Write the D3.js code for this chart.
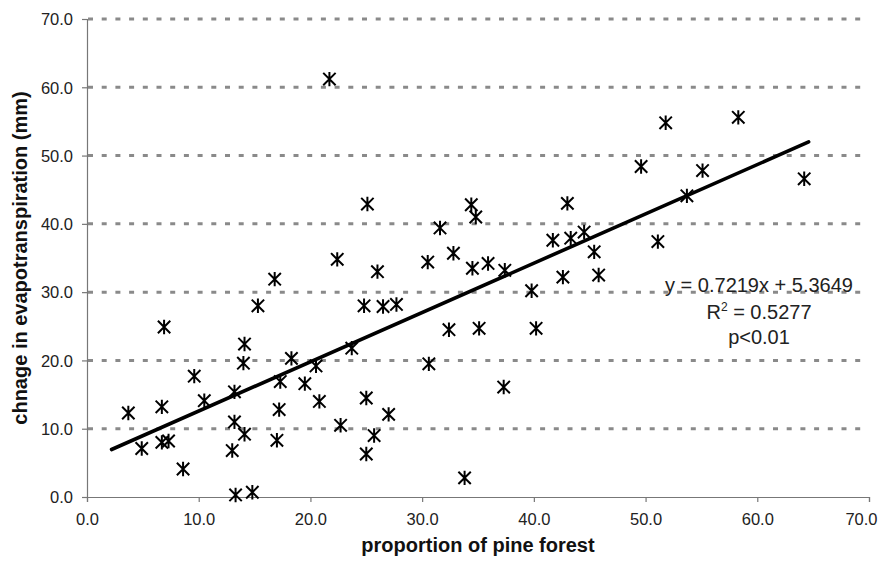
<!DOCTYPE html>
<html lang="en">
<head>
  <meta charset="UTF-8" />
  <title>Pine forest vs evapotranspiration</title>
  <script src="https://d3js.org/d3.v7.min.js"></script>
  <style>
    body {
      margin: 0;
      background: #fff;
      font-family: 'Liberation Sans', Arial, sans-serif;
    }
    svg { display: block; }
  </style>
</head>
<body>
  <div id="chart"></div>

  <script>
    // proportion of pine forest (%)
    const pine = [
      21.7, 25.1, 22.4, 26.0, 16.8, 15.3, 24.8, 26.5, 27.7, 6.9,
      14.1, 23.7, 14.0, 18.3, 20.5, 9.6, 17.3, 19.5, 13.2, 10.5,
      20.8, 25.0, 3.7, 6.7, 17.2, 13.2, 22.7, 14.1, 25.7, 6.7,
      7.3, 4.9, 17.0, 13.0, 25.0, 8.6, 13.3, 14.8, 30.5, 32.8,
      34.5, 35.9, 37.4, 42.6, 45.8, 45.4, 39.8, 32.4, 35.1, 40.2,
      30.6, 37.3, 27.0, 33.8, 49.6, 34.4, 34.8, 43.0, 31.6, 41.7,
      43.3, 44.5, 51.1, 51.8, 58.3, 55.1, 64.2, 53.7
    ];
    // change in evapotranspiration (mm)
    const etChange = [
      61.2, 42.9, 34.8, 33.0, 31.9, 28.0, 28.0, 27.9, 28.2, 24.9,
      22.4, 21.8, 19.6, 20.3, 19.2, 17.7, 16.9, 16.6, 15.4, 14.1,
      14.0, 14.5, 12.3, 13.2, 12.8, 11.0, 10.5, 9.2, 9.0, 8.0,
      8.2, 7.1, 8.3, 6.8, 6.3, 4.1, 0.3, 0.7, 34.4, 35.7,
      33.5, 34.2, 33.2, 32.2, 32.5, 35.9, 30.2, 24.5, 24.7, 24.7,
      19.5, 16.1, 12.1, 2.8, 48.4, 42.8, 41.0, 43.0, 39.4, 37.6,
      37.9, 38.8, 37.4, 54.8, 55.6, 47.8, 46.6, 44.1
    ];
    const xTicks = [0, 10, 20, 30, 40, 50, 60, 70];
    const yTicks = [0, 10, 20, 30, 40, 50, 60, 70];
    // linear trendline y = slope*x + intercept, drawn over this x range
    const slope = 0.7219, intercept = 5.3649;
    const trendX = [2.2, 64.6];
    const statLines = ["y = 0.7219x + 5.3649", "R2 = 0.5277", "p<0.01"];

    const width = 884, height = 566;
    const margin = { top: 19, right: 15, bottom: 69, left: 87 };

    const svg = d3.select("#chart").append("svg")
      .attr("width", width)
      .attr("height", height);

    const x = d3.scaleLinear().domain([0, 70]).range([margin.left, width - margin.right]);
    const y = d3.scaleLinear().domain([0, 70]).range([height - margin.bottom, margin.top]);

    // dashed gridlines
    svg.append("g")
      .selectAll("line")
      .data(yTicks.filter(d => d > 0))
      .join("line")
      .attr("x1", x(0) + 1)
      .attr("x2", x(70) - 8)
      .attr("y1", d => y(d))
      .attr("y2", d => y(d))
      .attr("stroke", "#8a8a8a")
      .attr("stroke-width", 3)
      .attr("stroke-dasharray", "5,8.7");

    // axes
    const xAxis = svg.append("g")
      .attr("transform", `translate(0,${y(0)})`)
      .call(d3.axisBottom(x).tickValues(xTicks).tickFormat(d3.format(".1f")).tickSize(5).tickPadding(11));
    const yAxis = svg.append("g")
      .attr("transform", `translate(${x(0)},0)`)
      .call(d3.axisLeft(y).tickValues(yTicks).tickFormat(d3.format(".1f")).tickSize(5).tickPadding(9));

    [xAxis, yAxis].forEach(g => {
      g.select(".domain").attr("stroke", "#777").attr("stroke-width", 1.2);
      g.selectAll(".tick line").attr("stroke", "#777").attr("stroke-width", 1.2);
      g.selectAll(".tick text")
        .attr("fill", "#222")
        .attr("font-size", "16.5px")
        .attr("font-family", "'Liberation Sans', Arial, sans-serif");
    });
    yAxis.selectAll(".tick text").attr("dy", "0.35em");
    // keep the last x label inside the frame
    xAxis.selectAll(".tick text").filter(d => d === 70).attr("dx", -8);

    // trendline
    svg.append("line")
      .attr("x1", x(trendX[0]))
      .attr("y1", y(slope * trendX[0] + intercept))
      .attr("x2", x(trendX[1]))
      .attr("y2", y(slope * trendX[1] + intercept))
      .attr("stroke", "#000")
      .attr("stroke-width", 3.6)
      .attr("stroke-linecap", "round");

    // star markers (x with a vertical bar)
    const s = 6.2;
    const star = `M${-s},${-s}L${s},${s}M${-s},${s}L${s},${-s}M0,${-s - 1}L0,${s + 1}`;
    svg.append("g")
      .selectAll("path")
      .data(pine.map((p, i) => [p, etChange[i]]))
      .join("path")
      .attr("transform", d => `translate(${x(d[0])},${y(d[1])})`)
      .attr("d", star)
      .attr("fill", "none")
      .attr("stroke", "#000")
      .attr("stroke-width", 2);

    // regression annotation
    const stats = svg.append("text")
      .attr("text-anchor", "middle")
      .attr("font-size", "20px")
      .attr("fill", "#222");
    stats.append("tspan").attr("x", 759).attr("y", 292).text(statLines[0]);
    const r2 = stats.append("tspan").attr("x", 759).attr("y", 319);
    r2.append("tspan").text("R");
    r2.append("tspan").attr("dy", -8).attr("font-size", "12px").text("2");
    r2.append("tspan").attr("dy", 8).text(statLines[1].slice(2));
    stats.append("tspan").attr("x", 759).attr("y", 344).text(statLines[2]);

    // axis titles
    svg.append("text")
      .attr("x", (x(0) + x(70)) / 2)
      .attr("y", 552)
      .attr("text-anchor", "middle")
      .attr("font-size", "20px")
      .attr("font-weight", "bold")
      .attr("fill", "#111")
      .text("proportion of pine forest");

    svg.append("text")
      .attr("transform", `translate(27,${(y(0) + y(70)) / 2}) rotate(-90)`)
      .attr("text-anchor", "middle")
      .attr("font-size", "20px")
      .attr("font-weight", "bold")
      .attr("fill", "#111")
      .text("chnage in evapotranspiration (mm)");
  </script>
</body>
</html>
